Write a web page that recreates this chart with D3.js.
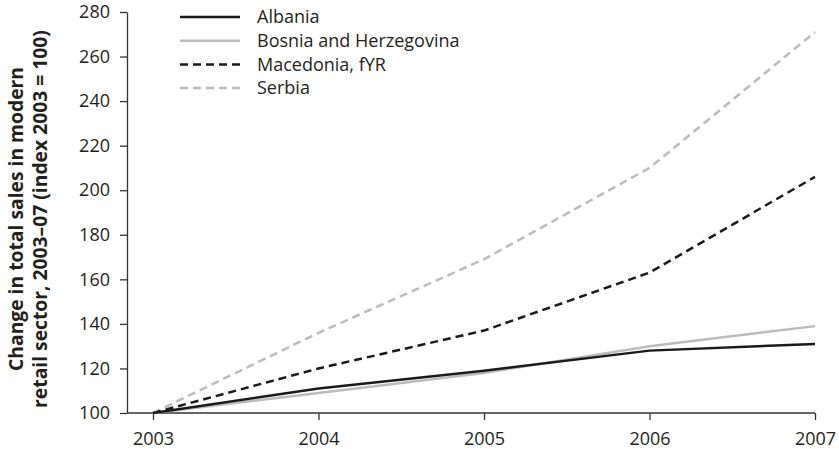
<!DOCTYPE html>
<html lang="en">
<head>
<meta charset="UTF-8">
<script src="https://d3js.org/d3.v7.min.js"></script>
<style>
  body { margin: 0; background: #fff; }
  text { font-family: "Open Sans", "Noto Sans", sans-serif; fill: #231f20; }
</style>
</head>
<body>
<div id="my_chart"></div>
<script>
var years = [2003, 2004, 2005, 2006, 2007];
var yTicks = [100, 120, 140, 160, 180, 200, 220, 240, 260, 280];
var albania = [100, 111, 119, 128, 131];
var bosnia = [100, 109, 118, 130, 139];
var macedonia = [100, 120, 137, 163, 206];
var serbia = [100, 136, 169, 210, 271];

var series = [
  { name: "Albania", values: albania, color: "#1a1a1a", dash: null },
  { name: "Bosnia and Herzegovina", values: bosnia, color: "#bcbcbc", dash: null },
  { name: "Macedonia, fYR", values: macedonia, color: "#1a1a1a", dash: "8,5" },
  { name: "Serbia", values: serbia, color: "#bcbcbc", dash: "8,5" }
];

var width = 839, height = 449;
var svg = d3.select("#my_chart").append("svg")
  .attr("width", width).attr("height", height);

var x = d3.scaleLinear().domain([2003, 2007]).range([153, 815]);
var y = d3.scaleLinear().domain([100, 280]).range([413, 12]);

// Y axis
var yAxis = svg.append("g")
  .attr("transform", "translate(127,0)")
  .call(d3.axisLeft(y).tickValues(yTicks).tickSize(7).tickPadding(10).tickSizeOuter(0));
yAxis.selectAll("text").style("font-size", "18px");

// X axis
var xAxis = svg.append("g")
  .attr("transform", "translate(0,413)")
  .call(d3.axisBottom(x).tickValues(years).tickFormat(d3.format("d")).tickSize(7).tickPadding(12).tickSizeOuter(0));
xAxis.selectAll("text").style("font-size", "18px");
xAxis.select(".domain").attr("d", "M127,0H815");

svg.selectAll(".domain, .tick line").attr("stroke", "#333").attr("stroke-width", 1.3);

// Y title
var title = svg.append("text")
  .attr("transform", "translate(0,219) rotate(-90)")
  .attr("text-anchor", "middle")
  .style("font-size", "19.3px")
  .style("font-weight", "bold");
title.append("tspan").attr("x", 0).attr("y", 23).text("Change in total sales in modern");
title.append("tspan").attr("x", 0).attr("y", 47).text("retail sector, 2003\u201307 (index 2003 = 100)");

// Lines
var line = d3.line()
  .x(function (d, i) { return x(years[i]); })
  .y(function (d) { return y(d); });

svg.selectAll(".series")
  .data(series.slice().reverse())
  .enter().append("path")
  .attr("class", "series")
  .attr("d", function (d) { return line(d.values); })
  .attr("fill", "none")
  .attr("stroke", function (d) { return d.color; })
  .attr("stroke-width", 2.5)
  .attr("stroke-dasharray", function (d) { return d.dash; });

// Legend
var legend = svg.selectAll(".legend")
  .data(series)
  .enter().append("g")
  .attr("class", "legend")
  .attr("transform", function (d, i) { return "translate(180," + (17 + i * 23.7) + ")"; });

legend.append("line")
  .attr("x1", 0).attr("x2", 60)
  .attr("stroke", function (d) { return d.color; })
  .attr("stroke-width", 2.5)
  .attr("stroke-dasharray", function (d) { return d.dash; });

legend.append("text")
  .attr("x", 77).attr("dy", "0.35em")
  .style("font-size", "18px")
  .text(function (d) { return d.name; });
</script>
</body>
</html>
